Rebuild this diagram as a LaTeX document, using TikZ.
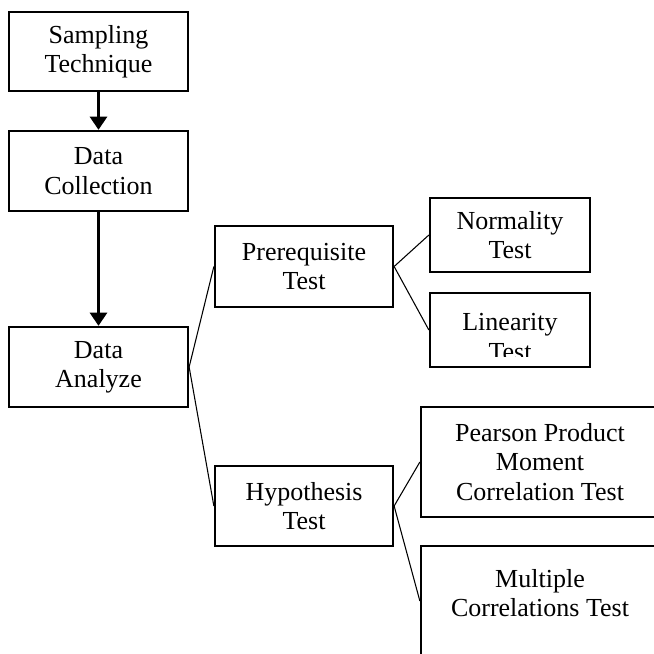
\documentclass[tikz,border=0pt]{standalone}
\usepackage{fontspec}
\setmainfont{Liberation Serif}
\usetikzlibrary{arrows.meta}
\def\pxu{0.75pt}
\tikzset{
  box/.style={draw, line width=1.7pt, fill=white, align=center, inner sep=0pt,
    font=\fontsize{19.5}{22}\selectfont},
  txt/.style={align=center, inner sep=0pt, font=\fontsize{19.5}{22}\selectfont},
  flow/.style={line width=2.6pt, -{Triangle[width=12.75pt,length=10pt]}},
  branch/.style={line width=0.8pt},
}
\begin{document}
\begin{tikzpicture}[x=0.75pt, y=-0.75pt]
  \useasboundingbox (0,0) rectangle (654,654);
  \clip (0,0) rectangle (654,654);

  % main column
  \node[box, minimum width=179*\pxu, minimum height=79*\pxu] (samp) at (98.5,51.5) {Sampling\\Technique};
  \node[box, minimum width=179*\pxu, minimum height=80*\pxu] (coll) at (98.5,171) {Data\\Collection};
  \node[box, minimum width=179*\pxu, minimum height=80*\pxu] (anal) at (98.5,367) {Data\\Analyze};

  % second level
  \node[box, minimum width=178*\pxu, minimum height=81*\pxu] (pre) at (304,266.5) {Prerequisite\\Test};
  \node[box, minimum width=178*\pxu, minimum height=80*\pxu] (hyp) at (304,506) {Hypothesis\\Test};

  % third level
  \node[box, minimum width=160*\pxu, minimum height=74*\pxu] (norm) at (510,235) {Normality\\Test};
  \node[box, minimum width=160*\pxu, minimum height=74*\pxu] (lin) at (510,330) {};
  \begin{scope}
    \clip (431,294) rectangle (589,356);
    \node[txt] (lintext) at (510,337) {Linearity\\Test};
  \end{scope}
  \node[box, minimum width=238*\pxu, minimum height=110*\pxu] (pear) at (540,462) {Pearson Product\\Moment\\Correlation Test};
  \node[box, minimum width=238*\pxu, minimum height=110*\pxu] (mult) at (540,601) {};
  \node[txt, anchor=north] (multtext) at (540,569) {Multiple\\Correlations Test};

  % connectors
  \draw[flow] (samp.south) -- (coll.north);
  \draw[flow] (coll.south) -- (anal.north);
  \draw[branch] (anal.east) -- (pre.west);
  \draw[branch] (anal.east) -- (hyp.west);
  \draw[branch] (pre.east) -- (norm.west);
  \draw[branch] (pre.east) -- (lin.west);
  \draw[branch] (hyp.east) -- (pear.west);
  \draw[branch] (hyp.east) -- (mult.west);
\end{tikzpicture}
\end{document}
